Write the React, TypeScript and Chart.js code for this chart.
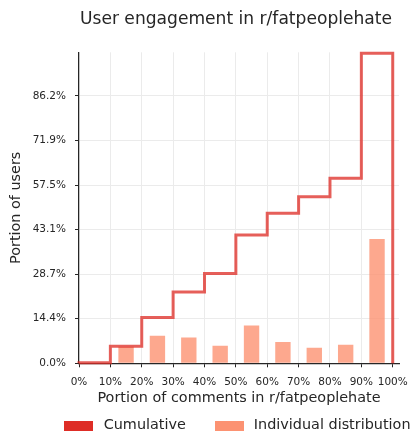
import React, { useEffect, useRef } from 'react';
import { Chart, registerables } from 'chart.js';

Chart.register(...registerables);

// ---- data ----
const binEdges = [0, 0.1, 0.2, 0.3, 0.4, 0.5, 0.6, 0.7, 0.8, 0.9, 1.0];
const binCenters = [0.05, 0.15, 0.25, 0.35, 0.45, 0.55, 0.65, 0.75, 0.85, 0.95];
const individualShare = [0.002, 0.053, 0.089, 0.083, 0.057, 0.122, 0.069, 0.05, 0.06, 0.401];
const cumulativeShare = [0.002, 0.055, 0.148, 0.23, 0.29, 0.414, 0.484, 0.537, 0.597, 1.0];
const xTickValues = [0, 0.1, 0.2, 0.3, 0.4, 0.5, 0.6, 0.7, 0.8, 0.9, 1.0];
const xTickLabels = ['0%', '10%', '20%', '30%', '40%', '50%', '60%', '70%', '80%', '90%', '100%'];
const yTickValues = [0, 0.1437, 0.2874, 0.4311, 0.5748, 0.7185, 0.8622];
const yTickLabels = ['0.0%', '14.4%', '28.7%', '43.1%', '57.5%', '71.9%', '86.2%'];
const xMax = 1.02;
const yMax = 1.003;
const seriesNames = ['Cumulative', 'Individual distribution'];

const TEXT = '#262626';
const FONT = "'DejaVu Sans', sans-serif";
const LINE_COLOR = 'rgba(222,45,38,0.76)';
const BAR_COLOR = 'rgba(252,146,114,0.8)';
const SWATCH_COLORS = ['#de2d26', '#fc9272'];

function makeSwatch(color: string) {
  const c = document.createElement('canvas');
  c.width = 29;
  c.height = 10;
  const ctx = c.getContext('2d');
  if (ctx) {
    ctx.fillStyle = color;
    ctx.fillRect(0, 0, 29, 10);
  }
  return c;
}

export default function App() {
  const ref = useRef<HTMLCanvasElement>(null);

  useEffect(() => {
    if (!ref.current) return;
    const stepPoints: { x: number; y: number }[] = [{ x: binEdges[0], y: 0 }];
    cumulativeShare.forEach((v, i) => {
      stepPoints.push({ x: binEdges[i], y: v });
      stepPoints.push({ x: binEdges[i + 1], y: v });
    });
    stepPoints.push({ x: binEdges[binEdges.length - 1], y: 0 });

    const swatches = SWATCH_COLORS.map(makeSwatch);

    const gridOpts = { color: '#ebebeb', lineWidth: 1, tickColor: TEXT, tickLength: 4, drawTicks: true, offset: false };
    const borderOpts = { color: TEXT, width: 1.2 };
    const tickFont = { family: FONT, size: 10.5 };

    const chart = new Chart(ref.current, {
      type: 'bar',
      data: {
        datasets: [
          {
            type: 'line',
            label: seriesNames[0],
            data: stepPoints,
            borderColor: LINE_COLOR,
            backgroundColor: LINE_COLOR,
            borderWidth: 3,
            pointRadius: 0,
            fill: false,
            tension: 0,
            clip: 10,
            borderJoinStyle: 'miter',
            borderCapStyle: 'butt',
          } as any,
          {
            type: 'bar',
            label: seriesNames[1],
            data: binCenters.map((x, i) => ({ x, y: individualShare[i] })),
            backgroundColor: BAR_COLOR,
            borderWidth: 0,
            barPercentage: 0.49,
            categoryPercentage: 1,
          } as any,
        ],
      },
      options: {
        responsive: false,
        animation: false,
        layout: { padding: { left: 28, right: -31, top: 0, bottom: -7.7 } },
        plugins: {
          tooltip: { enabled: false },
          title: {
            display: true,
            text: 'User engagement in r/fatpeoplehate',
            color: TEXT,
            font: { family: FONT, size: 17.1, weight: 'normal' },
            padding: { top: 9.3, bottom: 22.5 },
          },
          legend: {
            position: 'bottom',
            align: 'center',
            labels: {
              usePointStyle: true,
              pointStyleWidth: 35,
              padding: 25.8,
              color: TEXT,
              font: { family: FONT, size: 14.4 },
              generateLabels: () =>
                seriesNames.map((t, i) => ({
                  text: t,
                  pointStyle: swatches[i],
                  fillStyle: SWATCH_COLORS[i],
                  strokeStyle: 'rgba(0,0,0,0)',
                  lineWidth: 0,
                  hidden: false,
                  datasetIndex: i,
                  fontColor: TEXT,
                })) as any,
            },
          },
        },
        scales: {
          x: {
            type: 'linear',
            min: 0,
            max: xMax,
            offset: false,
            afterBuildTicks: (s: any) => {
              s.ticks = xTickValues.map((v) => ({ value: v }));
            },
            afterFit: (s: any) => {
              s.height = 29.2;
              s.paddingLeft = 0;
              s.paddingRight = 14;
            },
            ticks: {
              autoSkip: false,
              maxRotation: 0,
              minRotation: 0,
              padding: 9,
              color: TEXT,
              font: tickFont,
              callback: (_v: any, i: number) => xTickLabels[i],
            },
            grid: gridOpts,
            border: borderOpts,
            title: {
              display: true,
              text: 'Portion of comments in r/fatpeoplehate',
              color: TEXT,
              font: { family: FONT, size: 14.4 },
              padding: { top: 0, bottom: -14.1 },
            },
          } as any,
          y: {
            type: 'linear',
            min: 0,
            max: yMax,
            afterBuildTicks: (s: any) => {
              s.ticks = yTickValues.map((v) => ({ value: v }));
            },
            afterFit: (s: any) => {
              s.width = 51;
            },
            ticks: {
              padding: 9,
              color: TEXT,
              font: tickFont,
              callback: (_v: any, i: number) => yTickLabels[i],
            },
            grid: gridOpts,
            border: borderOpts,
            title: {
              display: true,
              text: 'Portion of users',
              color: TEXT,
              font: { family: FONT, size: 14.4 },
              padding: { top: -20.1, bottom: 0 },
            },
          } as any,
        },
      },
    });
    return () => chart.destroy();
  }, []);

  return (
    <div style={{ position: 'absolute', left: 0, top: 0, width: 413, height: 435 }}>
      <canvas ref={ref} width={413} height={435} />
    </div>
  );
}
